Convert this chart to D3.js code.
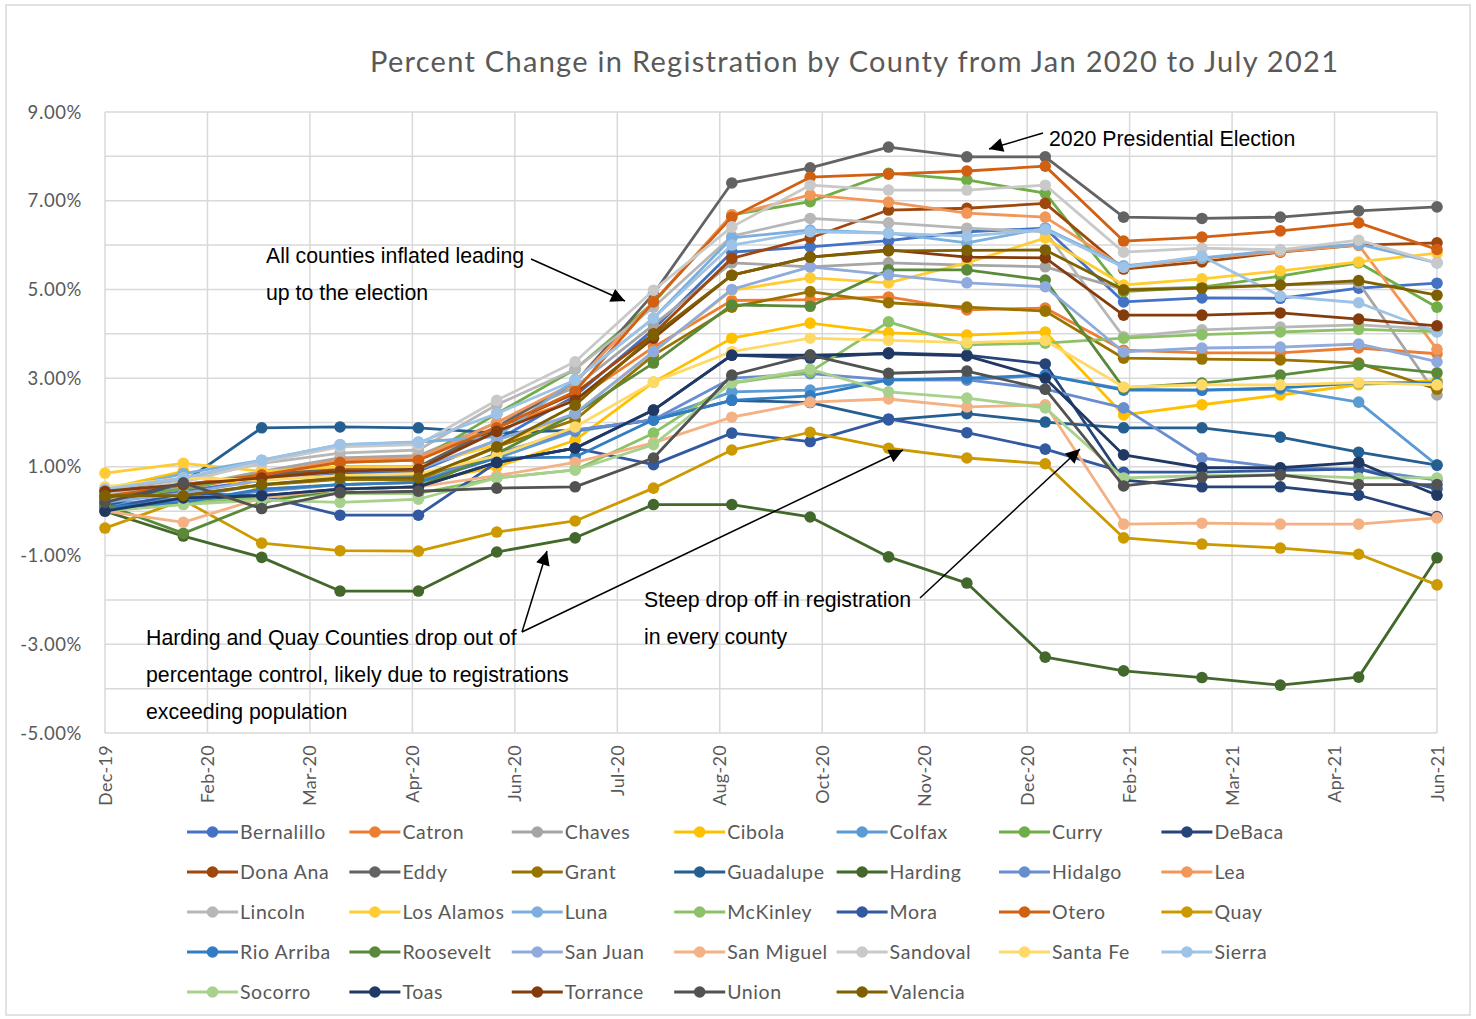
<!DOCTYPE html>
<html>
<head>
<meta charset="utf-8">
<script src="https://cdn.jsdelivr.net/npm/d3@7"></script>
<style>
  body { margin: 0; background: #fff; }
  .lbl { font-family: Lato, 'Open Sans', sans-serif; fill: #595959; }
  .note { font-family: 'Liberation Sans', Arial, sans-serif; fill: #000; font-size: 21.3px; }
</style>
</head>
<body>
<svg id="chart" width="1476" height="1019"></svg>
<script>
// axis labels
const xTickLabels = ['Dec-19', 'Feb-20', 'Mar-20', 'Apr-20', 'Jun-20', 'Jul-20', 'Aug-20',
  'Oct-20', 'Nov-20', 'Dec-20', 'Feb-21', 'Mar-21', 'Apr-21', 'Jun-21'];
const yTicks = [-5, -3, -1, 1, 3, 5, 7, 9];
const months = ['Jan-20', 'Feb-20', 'Mar-20', 'Apr-20', 'May-20', 'Jun-20', 'Jul-20', 'Aug-20', 'Sep-20',
  'Oct-20', 'Nov-20', 'Dec-20', 'Jan-21', 'Feb-21', 'Mar-21', 'Apr-21', 'May-21', 'Jun-21'];

// percent change per county, one value per month
const bernalillo = [0.2, 0.45, 0.7, 0.85, 0.9, 1.6, 2.6, 4.1, 5.84, 5.96, 6.1, 6.3, 6.38, 4.72, 4.81, 4.8, 5.03, 5.14];
const catron = [0.3, 0.5, 0.82, 1.15, 1.2, 1.9, 2.5, 3.7, 4.75, 4.77, 4.83, 4.54, 4.58, 3.63, 3.57, 3.57, 3.68, 3.55];
const chaves = [0.3, 0.55, 0.9, 1.2, 1.25, 2.0, 2.8, 4.2, 5.6, 5.51, 5.6, 5.55, 5.51, 5.0, 5.05, 5.1, 5.15, 2.62];
const cibola = [0.5, 0.9, 0.5, 0.6, 0.65, 1.0, 1.6, 2.91, 3.9, 4.24, 4.02, 3.97, 4.04, 2.17, 2.4, 2.62, 2.85, 2.95];
const colfax = [0.15, 0.3, 0.6, 0.75, 0.8, 1.2, 1.8, 2.06, 2.69, 2.73, 2.96, 2.96, 3.07, 2.75, 2.73, 2.75, 2.46, 1.04];
const curry = [0.3, 0.5, 0.85, 1.1, 1.15, 2.2, 3.2, 4.7, 6.68, 6.98, 7.62, 7.47, 7.17, 4.95, 5.05, 5.3, 5.6, 4.6];
const debaca = [0.05, 0.2, 0.35, 0.5, 0.55, 1.1, 1.42, 2.28, 3.52, 3.45, 3.57, 3.52, 3.32, 0.7, 0.55, 0.55, 0.36, -0.12];
const donaAna = [0.5, 0.6, 0.77, 0.95, 0.97, 1.88, 2.66, 4.0, 5.7, 6.16, 6.79, 6.83, 6.94, 5.46, 5.62, 5.84, 6.0, 6.05];
const eddy = [0.3, 0.6, 0.8, 1.0, 1.0, 1.9, 2.9, 4.9, 7.4, 7.74, 8.21, 7.99, 7.99, 6.63, 6.6, 6.63, 6.77, 6.86];
const grant = [0.35, 0.35, 0.59, 0.72, 0.7, 1.45, 2.06, 3.52, 4.6, 4.95, 4.7, 4.6, 4.51, 3.45, 3.43, 3.41, 3.34, 2.75];
const guadalupe = [0.1, 0.65, 1.88, 1.9, 1.88, 1.76, 1.83, 2.06, 2.5, 2.45, 2.06, 2.2, 2.01, 1.88, 1.88, 1.67, 1.33, 1.04];
const harding = [0, -0.56, -1.04, -1.8, -1.8, -0.92, -0.6, 0.15, 0.15, -0.13, -1.03, -1.62, -3.29, -3.6, -3.75, -3.92, -3.74, -1.05];
const hidalgo = [0.1, 0.25, 0.45, 0.6, 0.65, 1.3, 1.83, 2.06, 3.0, 3.1, 2.96, 2.96, 2.75, 2.33, 1.2, 0.98, 0.95, 0.7];
const lea = [0.4, 0.6, 0.82, 1.15, 1.2, 2.0, 2.9, 4.72, 6.68, 7.13, 6.97, 6.72, 6.63, 5.5, 5.7, 5.85, 6.0, 3.65];
const lincoln = [0.5, 0.7, 1.08, 1.31, 1.38, 2.4, 3.2, 4.6, 6.2, 6.6, 6.5, 6.38, 6.3, 3.93, 4.09, 4.15, 4.2, 4.1];
const losAlamos = [0.86, 1.08, 0.9, 1.0, 1.0, 1.5, 2.2, 3.6, 4.98, 5.26, 5.15, 5.6, 6.16, 5.1, 5.24, 5.42, 5.62, 5.82];
const luna = [0.45, 0.85, 1.15, 1.5, 1.56, 1.68, 2.96, 4.35, 6.16, 6.34, 6.27, 6.05, 6.38, 5.53, 5.71, 5.89, 6.02, 5.6];
const mckinley = [0.1, 0.2, 0.3, 0.4, 0.4, 0.75, 0.93, 1.76, 2.89, 3.14, 4.27, 3.75, 3.79, 3.9, 3.98, 4.04, 4.1, 4.05];
const mora = [0.05, 0.4, 0.35, -0.09, -0.09, 1.1, 1.42, 1.05, 1.76, 1.57, 2.08, 1.77, 1.4, 0.88, 0.88, 0.92, 0.95, 0.5];
const otero = [0.35, 0.6, 0.82, 1.1, 1.15, 1.88, 2.7, 4.72, 6.63, 7.53, 7.6, 7.67, 7.78, 6.09, 6.18, 6.32, 6.5, 5.9];
const quay = [-0.38, 0.25, -0.72, -0.89, -0.9, -0.47, -0.22, 0.52, 1.38, 1.78, 1.42, 1.2, 1.07, -0.6, -0.74, -0.83, -0.97, -1.66];
const rioArriba = [0.1, 0.2, 0.5, 0.6, 0.65, 1.2, 1.22, 2.06, 2.5, 2.6, 2.96, 3.0, 3.07, 2.73, 2.73, 2.78, 2.89, 2.89];
const roosevelt = [0.15, -0.5, 0.2, 0.5, 0.55, 1.3, 2.2, 3.34, 4.65, 4.62, 5.44, 5.44, 5.21, 2.78, 2.89, 3.07, 3.3, 3.12];
const sanJuan = [0.2, 0.4, 0.7, 0.9, 0.95, 1.6, 2.2, 3.6, 5.0, 5.51, 5.33, 5.15, 5.06, 3.59, 3.68, 3.7, 3.77, 3.37];
const sanMiguel = [0.0, -0.25, 0.3, 0.5, 0.55, 0.8, 1.1, 1.54, 2.12, 2.46, 2.53, 2.35, 2.4, -0.29, -0.27, -0.29, -0.29, -0.15];
const sandoval = [0.4, 0.65, 1.1, 1.45, 1.5, 2.5, 3.37, 4.98, 6.41, 7.35, 7.24, 7.24, 7.35, 5.84, 5.93, 5.89, 6.11, 5.6];
const santaFe = [0.55, 0.75, 0.7, 0.8, 0.85, 1.25, 1.9, 2.91, 3.6, 3.9, 3.85, 3.8, 3.85, 2.8, 2.85, 2.85, 2.9, 2.85];
const sierra = [0.5, 0.75, 1.15, 1.5, 1.55, 2.2, 2.96, 4.35, 6.0, 6.3, 6.27, 6.2, 6.35, 5.5, 5.75, 4.85, 4.7, 4.04];
const socorro = [0.0, 0.15, 0.25, 0.2, 0.27, 0.75, 0.93, 1.5, 2.9, 3.2, 2.69, 2.55, 2.33, 0.75, 0.8, 0.82, 0.75, 0.75];
const toas = [0.0, 0.3, 0.35, 0.5, 0.55, 1.1, 1.42, 2.28, 3.52, 3.52, 3.55, 3.5, 3.0, 1.27, 0.98, 0.98, 1.1, 0.36];
const torrance = [0.45, 0.6, 0.75, 0.9, 0.95, 1.8, 2.5, 3.9, 5.32, 5.73, 5.89, 5.73, 5.71, 4.42, 4.42, 4.47, 4.33, 4.18];
const union = [0.2, 0.64, 0.06, 0.42, 0.45, 0.52, 0.55, 1.2, 3.07, 3.52, 3.11, 3.16, 2.75, 0.57, 0.77, 0.82, 0.6, 0.6];
const valencia = [0.35, 0.35, 0.6, 0.75, 0.75, 1.45, 2.39, 3.97, 5.32, 5.73, 5.87, 5.88, 5.89, 4.99, 5.03, 5.1, 5.2, 4.87];

const counties = ['Bernalillo', 'Catron', 'Chaves', 'Cibola', 'Colfax', 'Curry', 'DeBaca',
  'Dona Ana', 'Eddy', 'Grant', 'Guadalupe', 'Harding', 'Hidalgo', 'Lea',
  'Lincoln', 'Los Alamos', 'Luna', 'McKinley', 'Mora', 'Otero', 'Quay',
  'Rio Arriba', 'Roosevelt', 'San Juan', 'San Miguel', 'Sandoval', 'Santa Fe', 'Sierra',
  'Socorro', 'Toas', 'Torrance', 'Union', 'Valencia'];
const colors = ['#4472C4', '#ED7D31', '#A5A5A5', '#FFC000', '#5B9BD5', '#70AD47', '#264478',
  '#9E480E', '#636363', '#997300', '#255E91', '#43682B', '#698ED0', '#F1975A',
  '#B7B7B7', '#FFCD33', '#7CAFDD', '#8CC168', '#335AA1', '#D26012', '#CC9A00',
  '#327DC2', '#5A8A39', '#8FAADC', '#F4B183', '#C9C9C9', '#FFD966', '#9DC3E6',
  '#A9D18E', '#203864', '#843C0C', '#525252', '#7F6000'];
const values = [bernalillo, catron, chaves, cibola, colfax, curry, debaca,
  donaAna, eddy, grant, guadalupe, harding, hidalgo, lea,
  lincoln, losAlamos, luna, mckinley, mora, otero, quay,
  rioArriba, roosevelt, sanJuan, sanMiguel, sandoval, santaFe, sierra,
  socorro, toas, torrance, union, valencia];

const series = counties.map((name, i) => ({ name, color: colors[i], values: values[i] }));

const svg = d3.select('#chart');
const plotLeft = 105, plotRight = 1437, plotTop = 112, plotBottom = 733;

// outer frame
svg.append('rect').attr('x', 6).attr('y', 5).attr('width', 1464).attr('height', 1010)
  .attr('fill', '#fff').attr('stroke', '#d9d9d9').attr('stroke-width', 1.5);

const x = d3.scaleLinear().domain([0, months.length - 1]).range([plotLeft, plotRight]);
const xGrid = d3.scalePoint().domain(xTickLabels).range([plotLeft, plotRight]);
const y = d3.scaleLinear().domain([-5, 9]).range([plotBottom, plotTop]);

// gridlines
svg.append('g').selectAll('line').data(d3.range(-5, 10))
  .enter().append('line')
  .attr('x1', plotLeft).attr('x2', plotRight)
  .attr('y1', (d) => y(d)).attr('y2', (d) => y(d))
  .attr('stroke', '#d9d9d9').attr('stroke-width', 1.5);
svg.append('g').selectAll('line').data(xTickLabels)
  .enter().append('line')
  .attr('x1', (d) => xGrid(d)).attr('x2', (d) => xGrid(d))
  .attr('y1', plotTop).attr('y2', plotBottom)
  .attr('stroke', '#d9d9d9').attr('stroke-width', 1.5);

// y labels
svg.append('g').selectAll('text').data(yTicks)
  .enter().append('text')
  .attr('class', 'lbl')
  .attr('x', 82).attr('y', (d) => y(d) + 6.5)
  .attr('text-anchor', 'end')
  .attr('font-size', 18.5)
  .attr('letter-spacing', 0.6)
  .text((d) => d.toFixed(2) + '%');

// x labels rotated
svg.append('g').selectAll('text').data(xTickLabels)
  .enter().append('text')
  .attr('class', 'lbl')
  .attr('text-anchor', 'end')
  .attr('font-size', 18)
  .attr('letter-spacing', 0.3)
  .attr('transform', (d) => `translate(${xGrid(d) + 6.5},745) rotate(-90)`)
  .text((d) => d);

// title
svg.append('text')
  .attr('class', 'lbl')
  .attr('x', 854).attr('y', 72)
  .attr('text-anchor', 'middle')
  .attr('font-size', 29)
  .attr('textLength', 968)
  .attr('lengthAdjust', 'spacing')
  .text('Percent Change in Registration by County from Jan 2020 to July 2021');

// series
const line = d3.line().x((d, i) => x(i)).y((d) => y(d));
const gSeries = svg.append('g');
series.forEach((s) => {
  const g = gSeries.append('g');
  g.append('path')
    .attr('d', line(s.values))
    .attr('fill', 'none')
    .attr('stroke', s.color)
    .attr('stroke-width', 2.8)
    .attr('stroke-linejoin', 'round');
  g.selectAll('circle').data(s.values)
    .enter().append('circle')
    .attr('cx', (d, i) => x(i))
    .attr('cy', (d) => y(d))
    .attr('r', 5.8)
    .attr('fill', s.color);
});

// legend
const legend = svg.append('g');
series.forEach((s, i) => {
  const col = i % 7, row = Math.floor(i / 7);
  const lx = 187 + col * 162.4, ly = 832 + row * 40;
  legend.append('line').attr('x1', lx).attr('x2', lx + 51).attr('y1', ly).attr('y2', ly)
    .attr('stroke', s.color).attr('stroke-width', 2.8);
  legend.append('circle').attr('cx', lx + 25.5).attr('cy', ly).attr('r', 5.8).attr('fill', s.color);
  legend.append('text').attr('class', 'lbl').attr('x', lx + 53).attr('y', ly + 7)
    .attr('font-size', 19.5).attr('letter-spacing', 0.6).text(s.name);
});

// annotations
const defs = svg.append('defs');
defs.append('marker').attr('id', 'arrow').attr('viewBox', '0 0 10 10')
  .attr('refX', 10).attr('refY', 5).attr('markerWidth', 18).attr('markerHeight', 14)
  .attr('markerUnits', 'userSpaceOnUse').attr('orient', 'auto')
  .append('path').attr('d', 'M0,0 L10,5 L0,10 z').attr('fill', '#000');

const arrows = [
  [531, 259, 625, 301],
  [1043, 133, 989, 149],
  [920, 598, 1080, 449],
  [522, 632, 547, 551],
  [522, 632, 903, 450]
];
svg.append('g').selectAll('line').data(arrows)
  .enter().append('line')
  .attr('x1', (d) => d[0]).attr('y1', (d) => d[1])
  .attr('x2', (d) => d[2]).attr('y2', (d) => d[3])
  .attr('stroke', '#000').attr('stroke-width', 1.5)
  .attr('marker-end', 'url(#arrow)');

const notes = [
  [266, 263, 'All counties inflated leading'],
  [266, 300, 'up to the election'],
  [1049, 146, '2020 Presidential Election'],
  [644, 607, 'Steep drop off in registration'],
  [644, 644, 'in every county'],
  [146, 645, 'Harding and Quay Counties drop out of'],
  [146, 682, 'percentage control, likely due to registrations'],
  [146, 719, 'exceeding population']
];
svg.append('g').selectAll('text').data(notes)
  .enter().append('text')
  .attr('class', 'note')
  .attr('x', (d) => d[0]).attr('y', (d) => d[1])
  .text((d) => d[2]);
</script>
</body>
</html>
